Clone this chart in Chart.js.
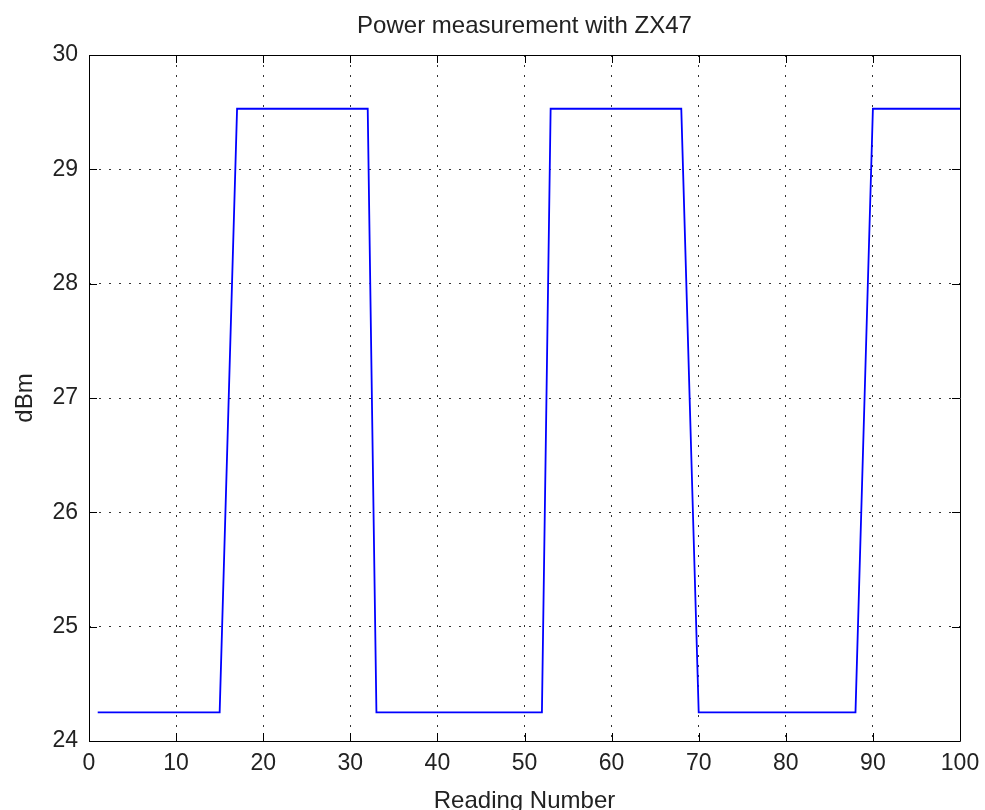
<!DOCTYPE html>
<html>
<head>
<meta charset="utf-8">
<script src="https://cdn.jsdelivr.net/npm/chart.js@4/dist/chart.umd.min.js"></script>
<style>
  body { margin: 0; background: #fff; }
  #wrap { width: 985px; height: 810px; }
</style>
</head>
<body>
<div id="wrap"><canvas id="myChart" width="985" height="810"></canvas></div>
<script>
// reading index 1..100
const readings = Array.from({ length: 100 }, (_, i) => i + 1);
// dBm per reading
const powerDbm = [
  24.25, 24.25, 24.25, 24.25, 24.25, 24.25, 24.25, 24.25, 24.25, 24.25,
  24.25, 24.25, 24.25, 24.25, 24.25, 26.89, 29.53, 29.53, 29.53, 29.53,
  29.53, 29.53, 29.53, 29.53, 29.53, 29.53, 29.53, 29.53, 29.53, 29.53,
  29.53, 29.53, 24.25, 24.25, 24.25, 24.25, 24.25, 24.25, 24.25, 24.25,
  24.25, 24.25, 24.25, 24.25, 24.25, 24.25, 24.25, 24.25, 24.25, 24.25,
  24.25, 24.25, 29.53, 29.53, 29.53, 29.53, 29.53, 29.53, 29.53, 29.53,
  29.53, 29.53, 29.53, 29.53, 29.53, 29.53, 29.53, 29.53, 26.89, 24.25,
  24.25, 24.25, 24.25, 24.25, 24.25, 24.25, 24.25, 24.25, 24.25, 24.25,
  24.25, 24.25, 24.25, 24.25, 24.25, 24.25, 24.25, 24.25, 26.89, 29.53,
  29.53, 29.53, 29.53, 29.53, 29.53, 29.53, 29.53, 29.53, 29.53, 29.53
];
const xTicks = [0, 10, 20, 30, 40, 50, 60, 70, 80, 90, 100];
const yTicks = [24, 25, 26, 27, 28, 29, 30];
const chartTitle = "Power measurement with ZX47";

const FONT = "'Liberation Sans', Arial, sans-serif";
const TEXT = "#222";

// matlab style box with inward tick marks on all four sides, title over the axes
const axisBox = {
  id: "axisBox",
  afterDraw(chart) {
    const { ctx, chartArea: a, scales } = chart;
    const len = 8;
    ctx.save();
    ctx.strokeStyle = "#000";
    ctx.lineWidth = 1;
    ctx.beginPath();
    ctx.rect(a.left + 0.5, a.top + 0.5, a.right - a.left, a.bottom - a.top);
    xTicks.forEach((v) => {
      const px = Math.round(scales.x.getPixelForValue(v)) + 0.5;
      ctx.moveTo(px, a.bottom);
      ctx.lineTo(px, a.bottom - len);
      ctx.moveTo(px, a.top);
      ctx.lineTo(px, a.top + len);
    });
    yTicks.forEach((v) => {
      const py = Math.round(scales.y.getPixelForValue(v)) + 0.5;
      ctx.moveTo(a.left, py);
      ctx.lineTo(a.left + len, py);
      ctx.moveTo(a.right, py);
      ctx.lineTo(a.right - len, py);
    });
    ctx.stroke();

    ctx.fillStyle = TEXT;
    ctx.font = "24px " + FONT;
    ctx.textAlign = "center";
    ctx.textBaseline = "alphabetic";
    ctx.fillText(chartTitle, (a.left + a.right) / 2, 33);
    ctx.restore();
  },
};

const ctx = document.getElementById("myChart").getContext("2d");
const myChart = new Chart(ctx, {
  type: "line",
  data: {
    labels: readings,
    datasets: [
      {
        data: powerDbm,
        borderColor: "#0000ff",
        borderWidth: 1.8,
        pointRadius: 0,
        tension: 0,
        fill: false,
      },
    ],
  },
  options: {
    responsive: false,
    animation: false,
    layout: { padding: { left: 0, right: 25, top: 55, bottom: 0 } },
    plugins: {
      legend: { display: false },
      tooltip: { enabled: false },
      title: { display: false },
    },
    scales: {
      x: {
        type: "linear",
        min: 0,
        max: 100,
        afterBuildTicks: (s) => { s.ticks = xTicks.map((v) => ({ value: v })); },
        afterFit: (s) => { s.height = 69; s.paddingLeft = 0; s.paddingRight = 0; },
        ticks: { color: TEXT, font: { family: FONT, size: 23 }, padding: 9, maxRotation: 0 },
        grid: { color: "#333", lineWidth: 1, drawTicks: false },
        border: { display: false, dash: [2, 8] },
        title: {
          display: true,
          text: "Reading Number",
          color: TEXT,
          font: { family: FONT, size: 24, lineHeight: 1 },
          padding: { top: 0, bottom: -3 },
        },
      },
      y: {
        min: 24,
        max: 30,
        afterBuildTicks: (s) => { s.ticks = yTicks.map((v) => ({ value: v })); },
        afterFit: (s) => { s.width = 89; s.paddingTop = 0; s.paddingBottom = 0; },
        ticks: { color: TEXT, font: { family: FONT, size: 23 }, padding: 11 },
        grid: { color: "#333", lineWidth: 1, drawTicks: false },
        border: { display: false, dash: [2, 8] },
        title: {
          display: true,
          text: "dBm",
          color: TEXT,
          font: { family: FONT, size: 24, lineHeight: 1.2 },
          padding: { top: 10.6, bottom: 0 },
        },
      },
    },
  },
  plugins: [axisBox],
});
</script>
</body>
</html>
